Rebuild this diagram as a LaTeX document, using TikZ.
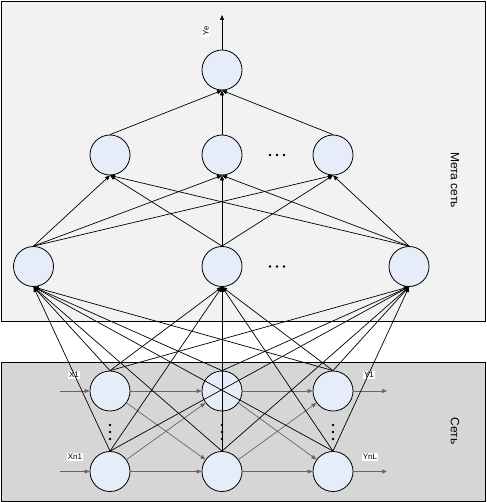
\documentclass[tikz,border=0pt]{standalone}
\usepackage{fontspec}
\setmainfont{Liberation Sans}
\usetikzlibrary{arrows.meta}
\definecolor{nfill}{HTML}{E6EDF8}
\definecolor{metafill}{HTML}{F2F2F2}
\definecolor{netfill}{HTML}{D6D6D6}
\definecolor{garrow}{HTML}{666666}
\begin{document}
\begin{tikzpicture}[x=1pt,y=-1pt,
  neuron/.style={circle,draw=black,line width=0.8pt,fill=nfill,minimum size=40pt,inner sep=0pt},
  panel/.style={draw=black,line width=0.9pt},
  conn/.style={draw=black,line width=0.7pt,-{Triangle[length=5pt,width=4pt]}},
  gconn/.style={draw=garrow,line width=0.7pt,-{Triangle[length=5pt,width=4pt]}},
  lbl/.style={fill=white,inner sep=1pt,font=\fontsize{8}{9}\selectfont},
  side/.style={font=\fontsize{12}{14}\selectfont},
  dot/.style={circle,fill=black,inner sep=0pt,minimum size=2.8pt}]
\useasboundingbox (0,0) rectangle (486,502);
% panels
\path[panel,fill=metafill] (1.5,1.5) rectangle (485,321);
\path[panel,fill=netfill] (1.5,362) rectangle (485,501.5);
\node[side,rotate=-90] (metalbl) at (455,180) {Мета сеть};
\node[side,rotate=-90] (netlbl) at (455,431) {Сеть};
% meta network nodes
\node[neuron] (o) at (222,70) {};
\node[neuron] (h1) at (110,155) {};
\node[neuron] (h2) at (222,155) {};
\node[neuron] (h3) at (333,155) {};
\node[neuron] (m1) at (33.5,266.5) {};
\node[neuron] (m2) at (222,266.5) {};
\node[neuron] (m3) at (409,266.5) {};
\node[dot] (hd1) at (270,155) {};
\node[dot] (hd2) at (277,155) {};
\node[dot] (hd3) at (284,155) {};
\node[dot] (md1) at (270,266.5) {};
\node[dot] (md2) at (277,266.5) {};
\node[dot] (md3) at (284,266.5) {};
% output
\coordinate (ye) at (222,15);
\draw[conn] (o.north) -- (ye);
\node[lbl,rotate=90] (yelbl) at (206,31) {Ye};
\foreach \h in {h1,h2,h3} \draw[conn] (\h.north) -- (o.south);
\foreach \m in {m1,m2,m3}
  \foreach \h in {h1,h2,h3}
    \draw[conn] (\m.north) -- (\h.south);
% base network
\node[neuron] (a1) at (110,391) {};
\node[neuron] (b1) at (222,391) {};
\node[neuron] (c1) at (333,391) {};
\node[neuron] (a2) at (110,471.5) {};
\node[neuron] (b2) at (222,471.5) {};
\node[neuron] (c2) at (333,471.5) {};
\foreach \x in {110,222,333}{
  \node[dot] at (\x,425) {};
  \node[dot] at (\x,432) {};
  \node[dot] at (\x,439) {};
}
\coordinate (in1) at (60,391);
\coordinate (in2) at (60,471.5);
\coordinate (out1) at (387,391);
\coordinate (out2) at (387,471.5);
\draw[gconn] (in1) -- (a1.west);
\draw[gconn] (in2) -- (a2.west);
\draw[gconn] (c1.east) -- (out1);
\draw[gconn] (c2.east) -- (out2);
\draw[gconn] (a1.east) -- (b1.west);
\draw[gconn] (b1.east) -- (c1.west);
\draw[gconn] (a2.east) -- (b2.west);
\draw[gconn] (b2.east) -- (c2.west);
\draw[gconn] (a1) -- (b2);
\draw[gconn] (a2) -- (b1);
\draw[gconn] (b1) -- (c2);
\draw[gconn] (b2) -- (c1);
\node[lbl] (x1) at (74,375) {X1};
\node[lbl] (xn) at (75,457) {Xn1};
\node[lbl] (y1) at (369,375) {Y1};
\node[lbl] (yn) at (370,457) {YnL};
% base -> meta
\foreach \s in {a1,b1,c1,a2,b2,c2}
  \foreach \m in {m1,m2,m3}
    \draw[conn] (\s.north) -- (\m.south);
\end{tikzpicture}
\end{document}
